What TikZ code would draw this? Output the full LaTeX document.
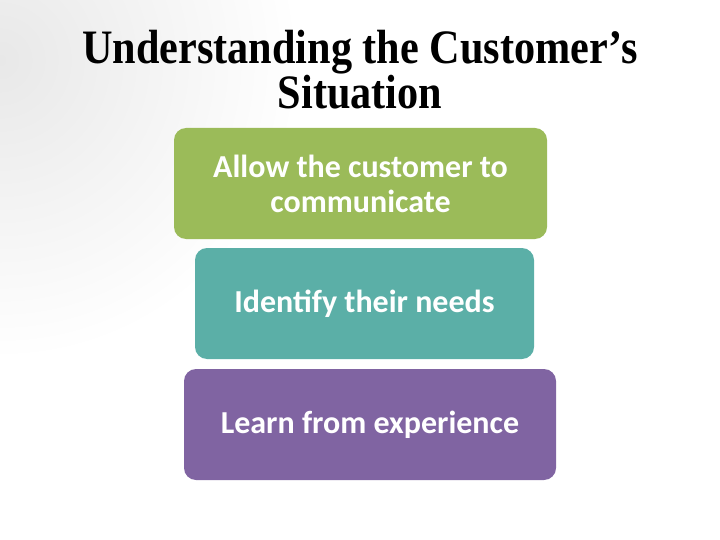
\documentclass[tikz,border=0pt]{standalone}
\usepackage{fontspec}
\setmainfont{Carlito}
\newfontfamily\titlefont{Liberation Serif}
\usetikzlibrary{positioning}
\definecolor{boxgreen}{HTML}{9BBB59}
\definecolor{boxteal}{HTML}{5BAFA7}
\definecolor{boxpurple}{HTML}{8064A2}

\begin{document}
\begin{tikzpicture}[x=1pt, y=-1pt, main/.style = {rounded corners=12pt, minimum height=111pt, text=white, align=center, font=\bfseries\fontsize{32}{35}\selectfont, inner sep=0pt}]
        \useasboundingbox (0,0) rectangle (720,540);
        \begin{scope}
            \clip (0,0) rectangle (720,540);
            \shade[inner color=black!9, outer color=white] (0,60) circle (300pt);
        \end{scope}
        \node[align=center, font=\titlefont\bfseries\fontsize{48}{41}\selectfont] (title) at (360,70) {\scalebox{0.88}[1]{Understanding the Customer’s}\\\scalebox{0.88}[1]{Situation}};
        \node[main, fill=boxgreen, minimum width=373pt] (allow) at (360.5,183.5) {Allow the customer to\\communicate};
        \node[main, fill=boxteal, minimum width=339pt] (identify) at (364.5,303.5) {Identify their needs};
        \node[main, fill=boxpurple, minimum width=372pt] (learn) at (370,424.5) {Learn from experience};
    \end{tikzpicture}
\end{document}
